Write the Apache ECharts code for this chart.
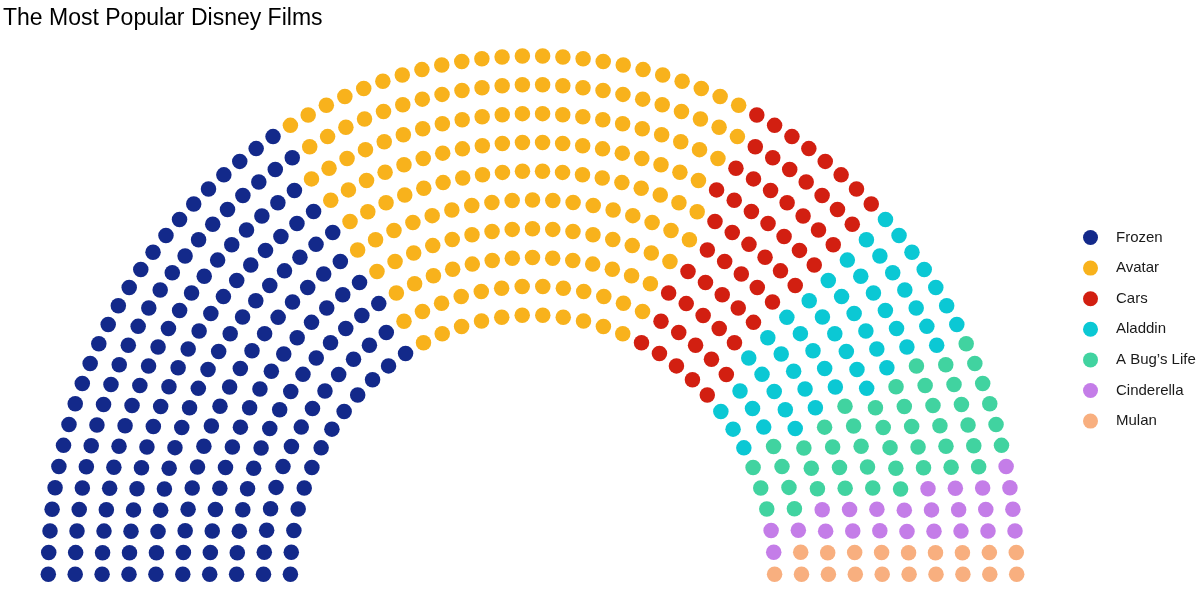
<!DOCTYPE html>
<html>
<head>
<meta charset="utf-8">
<script src="https://cdn.jsdelivr.net/npm/echarts@6/dist/echarts.min.js"></script>
<style>
  html, body { margin: 0; padding: 0; background: #ffffff; }
  #chart { width: 1200px; height: 595px; }
</style>
</head>
<body>
<div id="chart"></div>
<script>
// ---- data ----
const films = ["Frozen", "Avatar", "Cars", "Aladdin", "A Bug\u2019s Life", "Cinderella", "Mulan"];
const seats = [190, 180, 60, 53, 47, 24, 19];
const palette = ["#13298A", "#F8B21C", "#D21F11", "#0BC8D4", "#41D3A0", "#C47DE8", "#F8AF7F"];
const parlRows = 10;

// ---- semicircle parliament layout (radii 1..2, seats per row ~ radius) ----
function parliamentLayout(n, rows) {
  const radii = [];
  for (let i = 0; i < rows; i++) radii.push(1 + i / (rows - 1));
  let remaining = n;
  const pts = [];
  for (let i = 0; i < rows; i++) {
    let sumR = 0;
    for (let j = i; j < rows; j++) sumR += radii[j];
    const c = Math.round(remaining * radii[i] / sumR + 1e-9);
    for (let k = 0; k < c; k++) {
      const th = c === 1 ? 0 : Math.PI * k / (c - 1);
      pts.push({ x: radii[i] * Math.cos(th), y: radii[i] * Math.sin(th), r: i, th: th });
    }
    remaining -= c;
  }
  pts.sort((a, b) => (b.th - a.th) || (b.r - a.r));
  return pts;
}

const total = seats.reduce((a, b) => a + b, 0);
const layout = parliamentLayout(total, parlRows);

const series = [];
let idx = 0;
films.forEach((name, p) => {
  const data = [];
  for (let s = 0; s < seats[p]; s++, idx++) {
    data.push([layout[idx].x, layout[idx].y]);
  }
  series.push({
    name: name,
    type: 'scatter',
    data: data,
    symbol: 'circle',
    symbolSize: 15.5,
    itemStyle: { color: palette[p], opacity: 1 },
    emphasis: { disabled: true },
    clip: false
  });
});

const chart = echarts.init(document.getElementById('chart'), null, { renderer: 'canvas' });
chart.setOption({
  animation: false,
  backgroundColor: '#ffffff',
  title: {
    text: 'The Most Popular Disney Films',
    left: 3,
    top: 7,
    padding: 0,
    textStyle: { fontSize: 23, fontWeight: 'normal', color: '#000000', fontFamily: 'Liberation Sans, Arial, sans-serif' }
  },
  legend: {
    orient: 'vertical',
    left: 1083,
    top: 230,
    padding: 0,
    icon: 'circle',
    itemWidth: 15,
    itemHeight: 15,
    itemGap: 15.6,
    selectedMode: false,
    textStyle: { fontSize: 15, color: '#1a1a1a', fontFamily: 'Liberation Sans, Arial, sans-serif', padding: [0, 0, 0, 13] },
    data: films
  },
  grid: { left: 24.09, width: 1016.82, top: 30, height: 565 },
  xAxis: { type: 'value', min: -2.1, max: 2.1, show: false },
  yAxis: { type: 'value', min: -0.08, max: 2.1, show: false },
  series: series
});
</script>
</body>
</html>
